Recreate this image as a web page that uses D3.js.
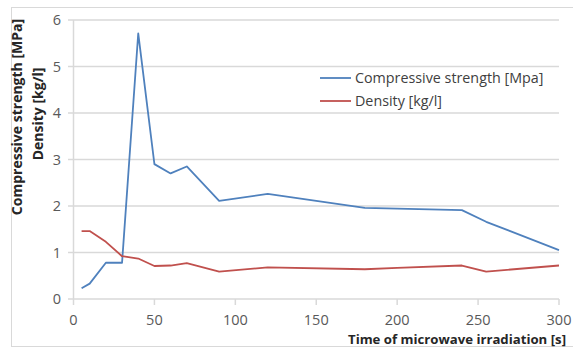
<!DOCTYPE html>
<html><head><meta charset="utf-8">
<script src="https://cdn.jsdelivr.net/npm/d3@7"></script>
<style>body{margin:0;background:#fff}svg{display:block}text{font-family:"Open Sans",sans-serif}</style>
</head><body><svg id="c" width="573" height="352"></svg>
<script>
const strengthX = [5,10,20,30,40,50,60,70,90,120,180,240,255,300];
const strengthY = [0.23,0.33,0.78,0.78,5.71,2.9,2.7,2.85,2.11,2.26,1.96,1.91,1.66,1.05];
const densityX = [5,10,20,30,40,50,60,70,90,120,180,200,240,255,300];
const densityY = [1.46,1.46,1.23,0.92,0.87,0.71,0.72,0.77,0.59,0.68,0.64,0.67,0.72,0.59,0.72];
const xTicks = [0,50,100,150,200,250,300];
const yTicks = [0,1,2,3,4,5,6];
const seriesNames = ["Compressive strength [Mpa]","Density [kg/l]"];
const colors = ["#4f81bd","#c0504d"];

const svg = d3.select("#c");
const x = d3.scaleLinear().domain([0,300]).range([73.5,559]);
const y = d3.scaleLinear().domain([0,6]).range([299,20]);

svg.append("rect").attr("x",11.5).attr("y",7.5).attr("width",580).attr("height",339)
  .attr("fill","none").attr("stroke","#d9d9d9").attr("stroke-width",1);

svg.append("g").selectAll("line").data(yTicks).join("line")
  .attr("x1",68).attr("x2",559).attr("y1",d=>y(d)).attr("y2",d=>y(d))
  .attr("stroke","#d9d9d9").attr("stroke-width",1.5);
svg.append("line").attr("x1",73.5).attr("x2",73.5).attr("y1",y(6)).attr("y2",y(0))
  .attr("stroke","#d9d9d9").attr("stroke-width",1.5);
svg.append("g").selectAll("line").data(xTicks).join("line")
  .attr("x1",d=>x(d)).attr("x2",d=>x(d)).attr("y1",y(0)).attr("y2",y(0)+6)
  .attr("stroke","#d9d9d9").attr("stroke-width",1.5);

svg.append("g").selectAll("text").data(yTicks).join("text")
  .attr("x",61).attr("y",d=>y(d)).attr("dy","0.35em").attr("text-anchor","end")
  .attr("font-size",14.5).attr("fill","#595959").text(d=>d);
svg.append("g").selectAll("text").data(xTicks).join("text")
  .attr("x",d=>x(d)).attr("y",320).attr("dy","0.35em").attr("text-anchor","middle")
  .attr("font-size",14.5).attr("fill","#595959").text(d=>d);

const line = d3.line().x(d=>x(d[0])).y(d=>y(d[1]));
svg.append("path").datum(strengthX.map((v,i)=>[v,strengthY[i]])).attr("d",line)
  .attr("fill","none").attr("stroke",colors[0]).attr("stroke-width",1.8).attr("stroke-linejoin","round");
svg.append("path").datum(densityX.map((v,i)=>[v,densityY[i]])).attr("d",line)
  .attr("fill","none").attr("stroke",colors[1]).attr("stroke-width",1.8).attr("stroke-linejoin","round");

const lg = svg.append("g").selectAll("g").data(seriesNames).join("g")
  .attr("transform",(d,i)=>`translate(320,${78+i*23})`);
lg.append("line").attr("x1",0).attr("x2",31).attr("stroke",(d,i)=>colors[i]).attr("stroke-width",1.8);
lg.append("text").attr("x",35).attr("dy","0.35em").attr("font-size",14.3).attr("fill","#404040").text(d=>d);

svg.append("text").attr("transform","translate(22,117) rotate(-90)").attr("text-anchor","middle")
  .attr("font-size",14).attr("font-weight","bold").attr("fill","#262626").text("Compressive strength [MPa]");
svg.append("text").attr("transform","translate(43,114) rotate(-90)").attr("text-anchor","middle")
  .attr("font-size",14).attr("font-weight","bold").attr("fill","#262626").text("Density [kg/l]");
svg.append("text").attr("x",348).attr("y",344).attr("font-size",13.2).attr("font-weight","bold")
  .attr("fill","#262626").text("Time of microwave irradiation  [s]");
</script></body></html>
